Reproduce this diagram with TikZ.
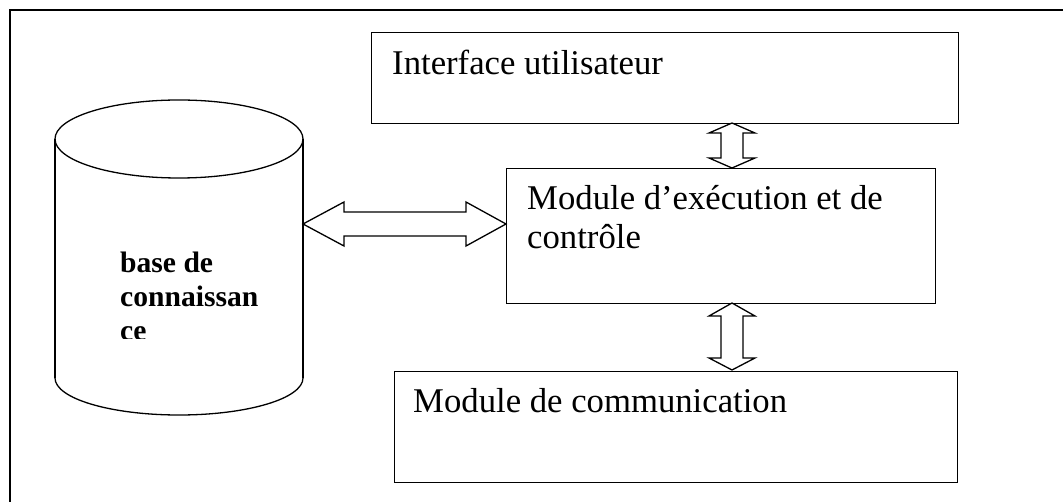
\documentclass[tikz,border=0pt]{standalone}
\usepackage{fontspec}
\setmainfont{Liberation Serif}
\usetikzlibrary{calc}

\tikzset{
  line/.style={line width=1.3pt, line join=miter},
  box/.style={line, draw, inner sep=0pt, anchor=north west},
  lbl/.style={inner sep=0pt, anchor=base west, align=left,
              font=\fontsize{34.7}{39}\selectfont},
  blbl/.style={inner sep=0pt, anchor=base west, align=left,
               font=\fontsize{29.6}{34}\selectfont\bfseries},
  fat/.style={line, draw, fill=white}
}

\begin{document}
\begin{tikzpicture}[x=1pt, y=-1pt]
  \useasboundingbox (0,0) rectangle (1063,502);
  \clip (0,0) rectangle (1063,502);

  % outer frame (its right and bottom sides fall outside the page)
  \draw[line] (10,530) -- (10,10) -- (1090,10);

  % boxes
  \node[box, minimum width=587pt, minimum height=91pt]  (ui)   at (371,32)  {};
  \node[box, minimum width=429pt, minimum height=135pt] (ctrl) at (506,168) {};
  \node[box, minimum width=563pt, minimum height=111pt] (comm) at (394,371) {};

  % labels (multi-line labels are placed by the baseline of their last line)
  \node[lbl] (uitxt) at (392,75) {Interface utilisateur};
  \node[lbl] (ctrltxt) at (527,249) {Module d’exécution et de\\contrôle};
  \node[lbl] (commtxt) at (413,413) {Module de communication};

  % knowledge base cylinder
  \coordinate (kbc) at (179,139);
  \draw[line] (kbc) ellipse [x radius=124pt, y radius=39pt];
  \draw[line] (55,139) -- (55,378);
  \draw[line] (303,139) -- (303,378);
  \draw[line] (303,378) .. controls (303,398.5) and (247.5,415) .. (179,415)
                        .. controls (110.5,415) and (55,398.5) .. (55,378);
  \begin{scope}
    \clip (100,240) rectangle (300,339);
    \node[blbl] (kbtxt) at (120,341) {base de\\connaissan\\ce};
  \end{scope}

  % ports of the connectors
  \coordinate (kbport)   at (303,224);
  \coordinate (ctrlwest) at (ctrl.west |- kbport);
  \coordinate (uiport)   at (732,123);
  \coordinate (ctrlup)   at (732,168);
  \coordinate (ctrldown) at (732,303);
  \coordinate (commport) at (732,370);

  % horizontal double arrow
  \draw[fat] (kbport) -- ($(kbport)+(41,-22)$) -- ($(kbport)+(41,-12)$)
    -- ($(ctrlwest)+(-40,-12)$) -- ($(ctrlwest)+(-40,-22)$) -- (ctrlwest)
    -- ($(ctrlwest)+(-40,22)$) -- ($(ctrlwest)+(-40,12)$)
    -- ($(kbport)+(41,12)$) -- ($(kbport)+(41,22)$) -- cycle;

  % vertical double arrow: interface <-> control
  \draw[fat] (uiport) -- ($(uiport)+(23,10)$) -- ($(uiport)+(11,10)$)
    -- ($(ctrlup)+(11,-10)$) -- ($(ctrlup)+(23,-10)$) -- (ctrlup)
    -- ($(ctrlup)+(-23,-10)$) -- ($(ctrlup)+(-11,-10)$)
    -- ($(uiport)+(-11,10)$) -- ($(uiport)+(-23,10)$) -- cycle;

  % vertical double arrow: control <-> communication
  \draw[fat] (ctrldown) -- ($(ctrldown)+(23,13)$) -- ($(ctrldown)+(11,13)$)
    -- ($(commport)+(11,-12)$) -- ($(commport)+(23,-12)$) -- (commport)
    -- ($(commport)+(-23,-12)$) -- ($(commport)+(-11,-12)$)
    -- ($(ctrldown)+(-11,13)$) -- ($(ctrldown)+(-23,13)$) -- cycle;
\end{tikzpicture}
\end{document}
